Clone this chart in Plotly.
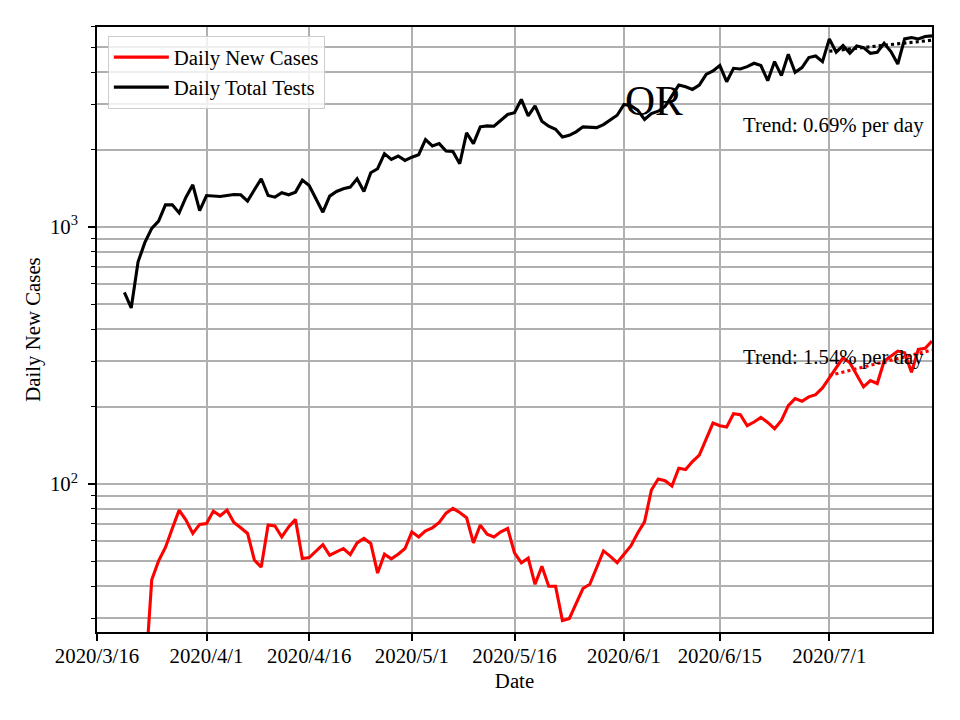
import pandas as pd
import plotly.graph_objects as go

# ---------------- data ----------------
start_date = "2020-03-16"

tests_first_day = 4   # 2020/3/20
daily_tests = [556, 484, 732, 871, 988, 1053, 1219, 1219, 1134, 1306, 1459, 1158,
               1325, 1318, 1314, 1325, 1337, 1334, 1260, 1395, 1540, 1325, 1306, 1358,
               1334, 1366, 1521, 1450, 1286, 1141, 1318, 1374, 1407, 1429, 1540, 1374,
               1625, 1685, 1928, 1832, 1888, 1815, 1868, 1911, 2187, 2066, 2110, 1975,
               1968, 1762, 2323, 2110, 2452, 2474, 2465, 2602, 2738, 2781, 3134, 2706,
               2961, 2578, 2465, 2399, 2240, 2273, 2344, 2452, 2436, 2436, 2503, 2602,
               2721, 2996, 2961, 2847, 2618, 2763, 2821, 2943, 3249, 3565, 3513, 3429,
               3565, 3925, 4044, 4245, 3675, 4143, 4117, 4206, 4333, 4245, 3708, 4400,
               3880, 4697, 3997, 4169, 4560, 4626, 4400, 5391, 4783, 5080, 4740, 5061,
               4988, 4740, 4783, 5186, 4812, 4306, 5391, 5460, 5391, 5508, 5539]

cases_first_day = 7   # 2020/3/23
daily_cases = [17, 42.4, 50.2, 56.6, 67.1, 79.1, 72.4, 64.2, 69.6, 70.2, 78.4, 75.2,
               79.1, 70.8, 67.5, 64.2, 50.5, 47.5, 69.2, 68.7, 62.2, 68.1, 72.8, 51.3,
               51.7, 54.9, 58.1, 52.8, 54.3, 56.1, 53.1, 59.0, 61.4, 58.7, 45.0, 53.3,
               51.1, 53.3, 56.1, 65.1, 62.2, 65.7, 67.5, 70.8, 77.0, 80.4, 77.5, 73.9,
               59.0, 69.2, 63.8, 62.2, 65.1, 67.1, 53.9, 49.3, 51.5, 40.7, 47.8, 40.0,
               40.0, 29.4, 29.9, 34.4, 39.2, 40.7, 46.9, 54.9, 52.3, 49.4, 53.3, 57.4,
               64.5, 71.2, 94.7, 104.6, 103.0, 98.2, 115.2, 113.9, 122.2, 129.4, 149.5,
               172.6, 168.5, 166.5, 187.7, 186.0, 168.5, 174.2, 181.6, 173.6, 164.0,
               176.7, 201.7, 214.8, 209.7, 218.2, 222.7, 236.5, 258.8, 283.1, 309.7,
               296.1, 264.1, 238.6, 252.6, 245.9, 300.4, 314.4, 328.9, 324.1, 272.2,
               333.9, 336.9, 359.6]

trend_dates = ["2020-07-01", "2020-07-16"]
tests_trend = [4830, 5330]
cases_trend = [264, 332]
tests_trend_label = "Trend: 0.69% per day"
cases_trend_label = "Trend: 1.54% per day"
state_label = "OR"

x_tick_dates = ["2020-03-16", "2020-04-01", "2020-04-16", "2020-05-01",
                "2020-05-16", "2020-06-01", "2020-06-15", "2020-07-01"]
x_tick_text = ["2020/3/16", "2020/4/1", "2020/4/16", "2020/5/1",
               "2020/5/16", "2020/6/1", "2020/6/15", "2020/7/1"]
y_major_vals = [100, 1000]
y_major_text = ["10<sup>2</sup>", "10<sup>3</sup>"]
y_minor_vals = [30, 40, 50, 60, 70, 80, 90, 200, 300, 400, 500, 600, 700, 800, 900,
                2000, 3000, 4000, 5000, 6000]

# ---------------- figure ----------------
base = pd.Timestamp(start_date)
tests_dates = [base + pd.Timedelta(days=tests_first_day + i) for i in range(len(daily_tests))]
cases_dates = [base + pd.Timedelta(days=cases_first_day + i) for i in range(len(daily_cases))]

FONT = "Liberation Serif"
FS = 20.8
GRID = "#b0b0b0"

fig = go.Figure()
fig.add_trace(go.Scatter(x=cases_dates, y=daily_cases, mode="lines",
                         line=dict(color="red", width=3.1), name="Daily New Cases"))
fig.add_trace(go.Scatter(x=tests_dates, y=daily_tests, mode="lines",
                         line=dict(color="black", width=3.1), name="Daily Total Tests"))
fig.add_trace(go.Scatter(x=trend_dates, y=tests_trend, mode="lines",
                         line=dict(color="black", width=3.1, dash="dot"), showlegend=False))
fig.add_trace(go.Scatter(x=trend_dates, y=cases_trend, mode="lines",
                         line=dict(color="red", width=3.1, dash="dot"), showlegend=False))

fig.add_annotation(text=tests_trend_label, xref="paper", yref="paper", x=0.993, y=0.838,
                   xanchor="right", yanchor="middle", showarrow=False,
                   font=dict(family=FONT, size=FS, color="black"))
fig.add_annotation(text=cases_trend_label, xref="paper", yref="paper", x=0.993, y=0.455,
                   xanchor="right", yanchor="middle", showarrow=False,
                   font=dict(family=FONT, size=FS, color="black"))
fig.add_annotation(text=state_label, xref="paper", yref="paper", x=0.667, y=0.878,
                   xanchor="center", yanchor="middle", showarrow=False,
                   font=dict(family=FONT, size=41.7, color="black"))

fig.update_layout(
    width=952, height=712,
    margin=dict(l=89, r=28, t=19, b=88),
    paper_bgcolor="white", plot_bgcolor="white",
    font=dict(family=FONT, size=FS, color="black"),
    showlegend=True,
    legend=dict(x=0.013, y=0.985, xanchor="left", yanchor="top",
                bgcolor="rgba(255,255,255,0.8)", bordercolor="#cccccc", borderwidth=1,
                itemwidth=55,
                font=dict(family=FONT, size=FS)),
    xaxis=dict(
        type="date", range=["2020-03-16", "2020-07-16"],
        tickmode="array", tickvals=x_tick_dates, ticktext=x_tick_text,
        ticks="outside", ticklen=7, tickwidth=1.6, tickcolor="black",
        ticklabelstandoff=-3,
        showgrid=True, gridcolor=GRID, gridwidth=1.6,
        showline=True, linecolor="black", linewidth=1.6, mirror=True,
        zeroline=False,
        title=dict(text="Date", font=dict(family=FONT, size=FS), standoff=8),
    ),
    yaxis=dict(
        type="log", range=[1.424, 3.778],
        tickmode="array", tickvals=y_major_vals, ticktext=y_major_text,
        ticks="outside", ticklen=7, tickwidth=1.6, tickcolor="black",
        ticklabelstandoff=6,
        showgrid=True, gridcolor=GRID, gridwidth=1.6,
        showline=True, linecolor="black", linewidth=1.6, mirror=True,
        zeroline=False,
        minor=dict(tickmode="array", tickvals=y_minor_vals, ticks="outside",
                   ticklen=4, tickwidth=1.2, tickcolor="black",
                   showgrid=True, gridcolor=GRID, gridwidth=1.6),
        title=dict(text="Daily New Cases", font=dict(family=FONT, size=FS), standoff=4),
    ),
)

fig.write_html("out.html")
